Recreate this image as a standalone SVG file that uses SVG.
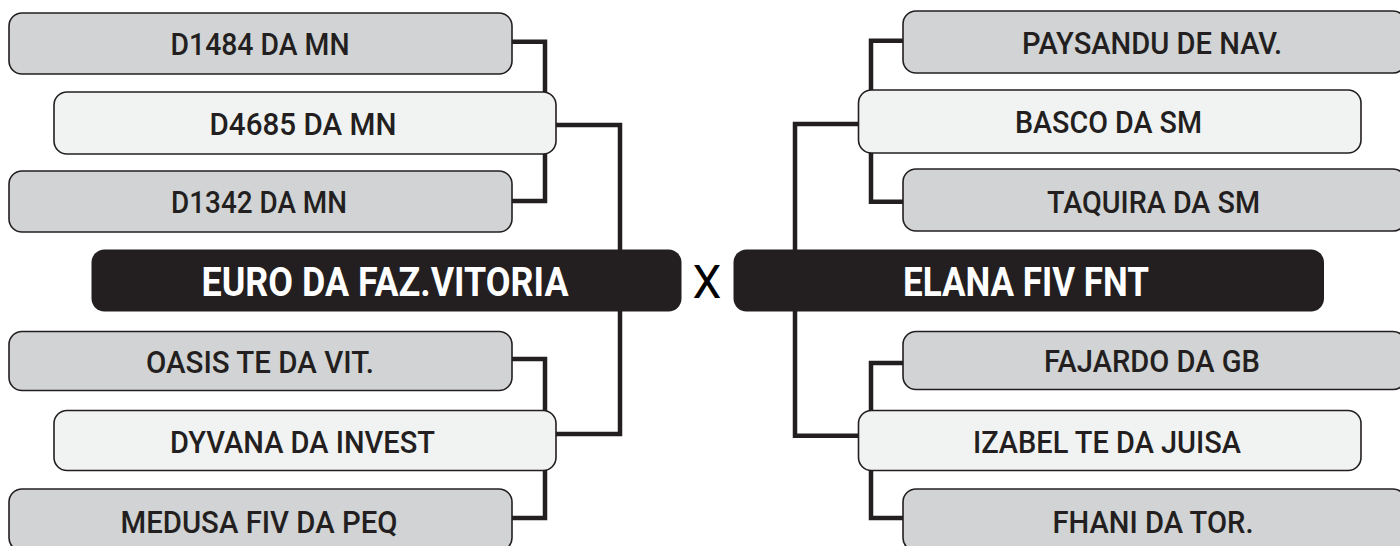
<svg xmlns="http://www.w3.org/2000/svg" width="1400" height="546" viewBox="0 0 1400 546">
<style>
.bg{fill:#ffffff}
.gray{fill:#d1d3d4;stroke:#231f20;stroke-width:1.6}
.light{fill:#f1f2f2;stroke:#231f20;stroke-width:1.6}
.dark{fill:#231f20;stroke:none}
.t{font-family:Roboto,"Liberation Sans",sans-serif;font-size:31px;font-weight:500;fill:#231f20;text-anchor:middle}
.tb{font-family:Roboto,"Liberation Sans",sans-serif;font-size:40px;font-weight:700;fill:#ffffff;text-anchor:middle}
.x{font-family:Roboto,"Liberation Sans",sans-serif;font-size:46px;font-weight:400;fill:#000000;text-anchor:middle}
.c{fill:none;stroke:#231f20;stroke-width:4.5;stroke-linejoin:miter}
</style>
<rect class="bg" x="0" y="0" width="1400" height="546"/>
<g id="connectors">
<path class="c" d="M510,41.7 H545 V94"/>
<path class="c" d="M545,152 V201 H510"/>
<path class="c" d="M554,125 H620 V252"/>
<path class="c" d="M620,309 V434 H554"/>
<path class="c" d="M510,359 H545 V413"/>
<path class="c" d="M545,468 V518 H510"/>
<path class="c" d="M905,40.7 H871 V92"/>
<path class="c" d="M871,151 V201.7 H905"/>
<path class="c" d="M860,124 H795 V252"/>
<path class="c" d="M795,309 V435.7 H860"/>
<path class="c" d="M905,363 H871 V413"/>
<path class="c" d="M871,468 V518 H905"/>
</g>
<g id="n-d1484"><rect class="gray" x="9" y="13" width="503" height="61" rx="13"/><text class="t" x="260" y="55" textLength="179" lengthAdjust="spacingAndGlyphs">D1484 DA MN</text></g>
<g id="n-d4685"><rect class="light" x="54" y="92" width="502" height="62" rx="13"/><text class="t" x="303" y="135" textLength="187" lengthAdjust="spacingAndGlyphs">D4685 DA MN</text></g>
<g id="n-d1342"><rect class="gray" x="9" y="171" width="503" height="61" rx="13"/><text class="t" x="259" y="213" textLength="176" lengthAdjust="spacingAndGlyphs">D1342 DA MN</text></g>
<g id="n-euro"><rect class="dark" x="91.5" y="249.5" width="590" height="62" rx="13"/><text class="tb" x="385" y="295.5" textLength="367" lengthAdjust="spacingAndGlyphs">EURO DA FAZ.VITORIA</text></g>
<g id="n-oasis"><rect class="gray" x="9" y="331.5" width="503" height="59" rx="13"/><text class="t" x="260" y="373" textLength="228" lengthAdjust="spacingAndGlyphs">OASIS TE DA VIT.</text></g>
<g id="n-dyvana"><rect class="light" x="54" y="410.5" width="502" height="60" rx="13"/><text class="t" x="302.5" y="453" textLength="265" lengthAdjust="spacingAndGlyphs">DYVANA DA INVEST</text></g>
<g id="n-medusa"><rect class="gray" x="9" y="489" width="503" height="62" rx="13"/><text class="t" x="259" y="533" textLength="277" lengthAdjust="spacingAndGlyphs">MEDUSA FIV DA PEQ</text></g>
<g id="vs"><text class="x" x="707" y="298">X</text></g>
<g id="n-paysandu"><rect class="gray" x="903" y="11" width="503" height="62" rx="13"/><text class="t" x="1152" y="54" textLength="260" lengthAdjust="spacingAndGlyphs">PAYSANDU DE NAV.</text></g>
<g id="n-basco"><rect class="light" x="858.5" y="90" width="502.5" height="63" rx="13"/><text class="t" x="1108.5" y="133" textLength="187" lengthAdjust="spacingAndGlyphs">BASCO DA SM</text></g>
<g id="n-taquira"><rect class="gray" x="903" y="169" width="503" height="62" rx="13"/><text class="t" x="1153.5" y="212.5" textLength="213" lengthAdjust="spacingAndGlyphs">TAQUIRA DA SM</text></g>
<g id="n-elana"><rect class="dark" x="733.5" y="249.5" width="590.5" height="62" rx="13"/><text class="tb" x="1026" y="295.5" textLength="246" lengthAdjust="spacingAndGlyphs">ELANA FIV FNT</text></g>
<g id="n-fajardo"><rect class="gray" x="903" y="331.5" width="503" height="58" rx="13"/><text class="t" x="1152" y="372" textLength="216" lengthAdjust="spacingAndGlyphs">FAJARDO DA GB</text></g>
<g id="n-izabel"><rect class="light" x="858.5" y="410.5" width="502.5" height="60" rx="13"/><text class="t" x="1107" y="453" textLength="268" lengthAdjust="spacingAndGlyphs">IZABEL TE DA JUISA</text></g>
<g id="n-fhani"><rect class="gray" x="903" y="489" width="503" height="62" rx="13"/><text class="t" x="1153" y="533" textLength="201" lengthAdjust="spacingAndGlyphs">FHANI DA TOR.</text></g>
</svg>
